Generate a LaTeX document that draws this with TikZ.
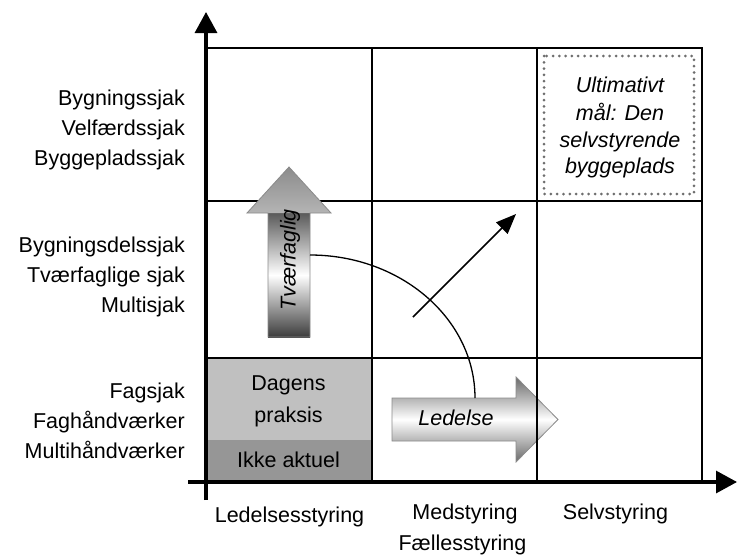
\documentclass[tikz,border=0pt]{standalone}
\usepackage{fontspec}
\setmainfont{Liberation Sans}
\usetikzlibrary{arrows.meta}
\definecolor{cellLight}{HTML}{C0C0C0}
\definecolor{cellDark}{HTML}{969696}
\definecolor{arrowEdge}{HTML}{8A8A8A}
\definecolor{dotGray}{HTML}{6E6E6E}
\definecolor{shadeDark}{HTML}{3C3C3C}
\definecolor{shadeMid}{HTML}{5A5A5A}
\definecolor{headTop}{HTML}{8C8C8C}
\definecolor{headBase}{HTML}{B4B4B4}
\definecolor{barGray}{HTML}{6A6A6A}
\begin{document}
\begin{tikzpicture}[x=1pt,y=-1pt,
  lbl/.style={font=\fontsize{21.5}{30}\selectfont, inner sep=0pt},
  ilbl/.style={font=\fontsize{21.5}{27}\selectfont\itshape, inner sep=0pt},
  gridline/.style={line width=1.3pt},
  axisline/.style={line width=3.2pt, -{Triangle[length=21pt,width=22pt]}},
  bigarrow/.style={draw=arrowEdge, line width=0.8pt},
  goalbox/.style={draw=dotGray, line width=3pt, line cap=round, dash pattern=on 0pt off 6.3pt},
]
\useasboundingbox (0,0) rectangle (737,555);

% shaded cells of the bottom-left square
\fill[cellLight] (206,358) rectangle (372,440);
\fill[cellDark]  (206,440) rectangle (372,482);

% horizontal "Ledelse" block arrow (lies under the grid)
\path[bigarrow, top color=barGray, bottom color=barGray, middle color=white]
  (392,398) -- (516,398) -- (516,377) -- (558,419.5) -- (516,462) -- (516,441) -- (392,441) -- cycle;
\node[ilbl, anchor=base] (led) at (456,425) {Ledelse};

% grid
\draw[gridline] (206,48) -- (702,48) -- (702,482);
\draw[gridline] (206,201) -- (702,201);
\draw[gridline] (206,358) -- (702,358);
\draw[gridline] (372,48) -- (372,482);
\draw[gridline] (537,48) -- (537,482);

% vertical "Tvaerfaglig" block arrow
\shade[top color=shadeMid, bottom color=shadeDark, middle color=white] (268,213) rectangle (310,337);
\shade[top color=headTop, bottom color=headBase] (247,213) -- (289,167) -- (331,213) -- cycle;
\draw[draw=arrowEdge, line width=0.8pt]
  (268,337) -- (268,213) -- (247,213) -- (289,167) -- (331,213) -- (310,213) -- (310,337) -- cycle;
\node[ilbl, rotate=90] (tvf) at (290,260) {Tværfaglig};

% connectors
\coordinate (curveStart) at (310,255);
\coordinate (curveEnd) at (475,398);
\draw[line width=1.3pt] (curveStart) .. controls (401,255) and (475,319) .. (curveEnd);
\coordinate (diagFrom) at (413,317);
\coordinate (diagTo) at (516,214);
\draw[line width=1.7pt, -{Triangle[length=20pt,width=16pt]}] (diagFrom) -- (diagTo);

% goal box
\draw[goalbox] (544,56) rectangle (694,194);
\node[ilbl, anchor=base] (g1) at (620,92) {Ultimativt};
\node[ilbl, anchor=base] (g2) at (620,120) {mål: Den};
\node[ilbl, anchor=base] (g3) at (620,147) {selvstyrende};
\node[ilbl, anchor=base] (g4) at (620,173) {byggeplads};

% cell texts
\node[lbl, anchor=base] (c1) at (288.5,390) {Dagens};
\node[lbl, anchor=base] (c2) at (288.5,422) {praksis};
\node[lbl, anchor=base] (c3) at (288.5,467) {Ikke aktuel};

% axes
\draw[axisline] (206,500) -- (206,12);
\draw[axisline] (188,482) -- (737,482);

% row labels
\node[lbl, anchor=base east] (r1) at (185,105) {Bygningssjak};
\node[lbl, anchor=base east] (r2) at (185,135) {Velfærdssjak};
\node[lbl, anchor=base east] (r3) at (185,165) {Byggepladssjak};
\node[lbl, anchor=base east] (r4) at (185,252) {Bygningsdelssjak};
\node[lbl, anchor=base east] (r5) at (185,282) {Tværfaglige sjak};
\node[lbl, anchor=base east] (r6) at (185,312) {Multisjak};
\node[lbl, anchor=base east] (r7) at (185,398) {Fagsjak};
\node[lbl, anchor=base east] (r8) at (185,428) {Faghåndværker};
\node[lbl, anchor=base east] (r9) at (185,458) {Multihåndværker};

% column labels
\node[lbl, anchor=base] (k1) at (289.5,522) {Ledelsesstyring};
\node[lbl, anchor=base] (k2) at (465,519) {Medstyring};
\node[lbl, anchor=base] (k3) at (462.5,550) {Fællesstyring};
\node[lbl, anchor=base] (k4) at (615.5,519) {Selvstyring};
\end{tikzpicture}
\end{document}
